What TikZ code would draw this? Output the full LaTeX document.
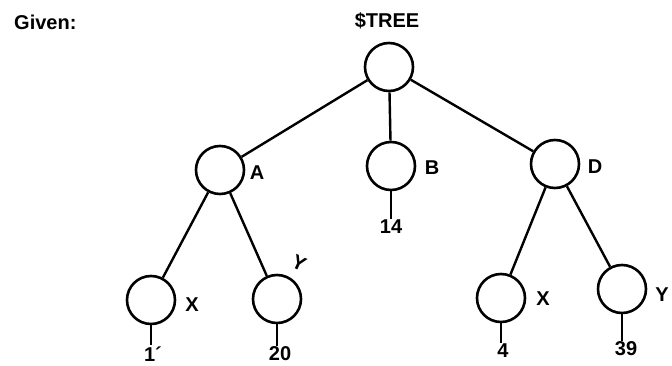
\documentclass[tikz,border=0pt]{standalone}
\usepackage{fontspec}
\setmainfont{Liberation Sans}
\begin{document}
\begin{tikzpicture}[x=1pt,y=-1pt,
  every node/.style={font=\bfseries\fontsize{20}{22}\selectfont},
  vertex/.style={circle,draw,line width=2.6pt,minimum size=48pt,inner sep=0pt},
  tag/.style={inner sep=1pt},
  edge/.style={line width=2.4pt}]
\useasboundingbox (0,0) rectangle (672,366);
% heading and root name
\node[tag,anchor=west] (given) at (13,22) {Given:};
\node[tag] (name) at (387,21) {\$TREE};
% tree vertices
\node[vertex] (root) at (389,67) {};
\node[vertex] (A) at (220,170) {};
\node[vertex] (B) at (391,166) {};
\node[vertex] (D) at (555,164) {};
\node[vertex] (AX) at (151,300) {};
\node[vertex] (AY) at (277,299) {};
\node[vertex] (DX) at (501,298) {};
\node[vertex] (DY) at (622,289) {};
% vertex names
\node[tag] (lA) at (257,173) {A};
\node[tag] (lB) at (432,168) {B};
\node[tag] (lD) at (595,167) {D};
\node[tag] (lAX) at (192,305) {X};
\node[tag,rotate=-25] (lAY) at (299,263) {Y};
\node[tag] (lDX) at (543,299) {X};
\node[tag] (lDY) at (662,295) {Y};
% leaf values
\node[tag] (vB) at (391,227) {14};
\node[tag] (vAX) at (153,354) {1´};
\node[tag] (vAY) at (280,354) {20};
\node[tag] (vDX) at (503,351) {4};
\node[tag] (vDY) at (626,349) {39};
% branches
\draw[edge] (root) -- (A);
\draw[edge] (root) -- (B);
\draw[edge] (root) -- (D);
\draw[edge] (A) -- (AX);
\draw[edge] (A) -- (AY);
\draw[edge] (D) -- (DX);
\draw[edge] (D) -- (DY);
% value stems
\draw[edge] (B.south) -- (vB.north);
\draw[edge] (AX.south) -- (vAX.north -| AX.south);
\draw[edge] (AY.south) -- (vAY.north -| AY.south);
\draw[edge] (DX.south) -- (vDX.north -| DX.south);
\draw[edge] (DY.south) -- (vDY.north -| DY.south);
\end{tikzpicture}
\end{document}
